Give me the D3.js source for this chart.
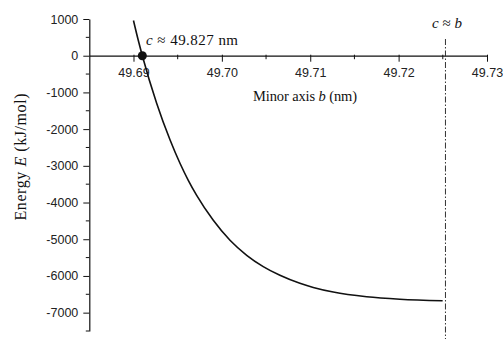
<!DOCTYPE html>
<html>
<head>
<meta charset="utf-8">
<script src="https://cdn.jsdelivr.net/npm/d3@7"></script>
<style>
  body { margin: 0; background: #fff; }
  svg { display: block; }
</style>
</head>
<body>
<div id="chart"></div>
<script>
// curve
var minorAxisB = [49.6900, 49.69054, 49.6910, 49.69262, 49.69413, 49.69526, 49.6962, 49.69715,
  49.69903, 49.70092, 49.70281, 49.70468, 49.70657, 49.70883, 49.71034, 49.7126, 49.71638, 49.72014, 49.72498];
var energyE = [958, 420, 0, -1294, -2291, -2931, -3395, -3806,
  -4484, -5029, -5438, -5746, -5983, -6201, -6313, -6438, -6566, -6634, -6675];

var xTicks = [49.69, 49.70, 49.71, 49.72, 49.73];
var xMinorTicks = [49.695, 49.705, 49.715, 49.725];
var yTicks = [1000, 0, -1000, -2000, -3000, -4000, -5000, -6000, -7000];
var yMinorTicks = [500, -500, -1500, -2500, -3500, -4500, -5500, -6500, -7500];

var crossB = 49.6910, crossE = 0;   // marked point
var cEqualsB = 49.7253;             // dash-dot line

var width = 503, height = 339;

var svg = d3.select("#chart").append("svg")
    .attr("width", width)
    .attr("height", height);

var x = d3.scaleLinear().domain([49.685, 49.73]).range([89.3, 487]);
var y = d3.scaleLinear().domain([-7500, 1000]).range([331, 19]);

var sans = "'Liberation Sans', Arial, sans-serif";
var serif = "'Liberation Serif', 'Times New Roman', serif";

// x axis sits on E = 0
var xAxis = svg.append("g")
    .attr("transform", "translate(0," + y(0) + ")")
    .call(d3.axisBottom(x).tickValues(xTicks).tickSize(6).tickPadding(6)
      .tickFormat(d3.format(".2f")).tickSizeOuter(0));
xAxis.select(".domain").attr("stroke", "#111").attr("stroke-width", 1.2);
xAxis.selectAll(".tick line").attr("stroke", "#111").attr("y1", -1);
xAxis.selectAll("text").attr("font-family", sans).attr("font-size", "12.5px").attr("fill", "#222");

svg.append("g")
    .attr("transform", "translate(0," + y(0) + ")")
  .selectAll("line").data(xMinorTicks).join("line")
    .attr("x1", d => x(d)).attr("x2", d => x(d))
    .attr("y1", -1).attr("y2", 3.5)
    .attr("stroke", "#111");

var yAxis = svg.append("g")
    .attr("transform", "translate(" + x(49.685) + ",0)")
    .call(d3.axisLeft(y).tickValues(yTicks).tickSize(6).tickPadding(5)
      .tickFormat(d => String(d)).tickSizeOuter(0));
yAxis.select(".domain").attr("stroke", "#111").attr("stroke-width", 1.2);
yAxis.selectAll(".tick line").attr("stroke", "#111");
yAxis.selectAll("text").attr("font-family", sans).attr("font-size", "12.5px").attr("fill", "#222");

svg.append("g")
    .attr("transform", "translate(" + x(49.685) + ",0)")
  .selectAll("line").data(yMinorTicks).join("line")
    .attr("x1", -3.5).attr("x2", 0)
    .attr("y1", d => y(d)).attr("y2", d => y(d))
    .attr("stroke", "#111");

// curve
var pts = minorAxisB.map((b, i) => [b, energyE[i]]);
var line = d3.line()
    .x(d => x(d[0]))
    .y(d => y(d[1]))
    .curve(d3.curveMonotoneX);

svg.append("path")
    .attr("d", line(pts))
    .attr("fill", "none")
    .attr("stroke", "#111")
    .attr("stroke-width", 1.6);

// dash-dot c ≈ b line
svg.append("line")
    .attr("x1", x(cEqualsB)).attr("x2", x(cEqualsB))
    .attr("y1", 39).attr("y2", height)
    .attr("stroke", "#333")
    .attr("stroke-width", 1)
    .attr("stroke-dasharray", "6,2,1.5,2");

svg.append("circle")
    .attr("cx", x(crossB)).attr("cy", y(crossE))
    .attr("r", 4.5)
    .attr("fill", "#111");

// labels
var ann = svg.append("text")
    .attr("x", 146).attr("y", 45)
    .attr("font-family", serif).attr("font-size", "15px").attr("fill", "#111")
    .attr("textLength", 92);
ann.append("tspan").attr("font-style", "italic").text("c");
ann.append("tspan").text(" \u2248 49.827 nm");

var cb = svg.append("text")
    .attr("x", 432).attr("y", 28)
    .attr("font-family", serif).attr("font-size", "15px").attr("fill", "#111");
cb.append("tspan").attr("font-style", "italic").text("c");
cb.append("tspan").text(" \u2248 ");
cb.append("tspan").attr("font-style", "italic").text("b");

var xl = svg.append("text")
    .attr("x", 253).attr("y", 101)
    .attr("font-family", serif).attr("font-size", "14.5px").attr("fill", "#111")
    .attr("textLength", 104);
xl.append("tspan").text("Minor axis ");
xl.append("tspan").attr("font-style", "italic").text("b");
xl.append("tspan").text(" (nm)");

var yl = svg.append("text")
    .attr("transform", "translate(26,157) rotate(-90)")
    .attr("text-anchor", "middle")
    .attr("font-family", serif).attr("font-size", "16px").attr("fill", "#111")
    .attr("textLength", 127);
yl.append("tspan").text("Energy ");
yl.append("tspan").attr("font-style", "italic").text("E");
yl.append("tspan").text(" (kJ/mol)");
</script>
</body>
</html>
